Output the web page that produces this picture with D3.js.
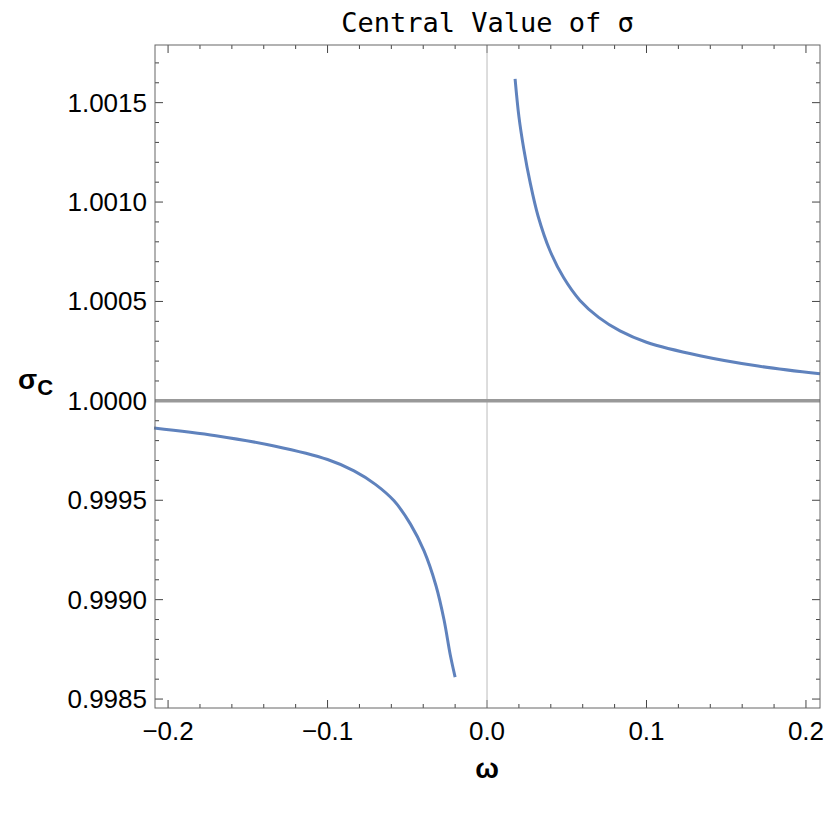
<!DOCTYPE html>
<html><head><meta charset="utf-8">
<script src="https://cdn.jsdelivr.net/npm/d3@7"></script>
<style>body{margin:0;background:#fff}</style>
</head><body>
<svg id="chart"></svg>
<script>
// values
let rightOmega = [0.0176, 0.0200, 0.0230, 0.0270, 0.0320, 0.0395, 0.0480, 0.0583, 0.0700, 0.0834, 0.1000, 0.1335, 0.1700, 0.2088];
let rightSigma = [1.00162, 1.00143, 1.00127, 1.00110, 1.00093, 1.000755, 1.00062, 1.000505, 1.00042, 1.000352, 1.000295, 1.000227, 1.000175, 1.000136];
let leftOmega = [-0.2088, -0.1700, -0.1335, -0.1000, -0.0834, -0.0700, -0.0583, -0.0480, -0.0395, -0.0320, -0.0270, -0.0230, -0.0200];
let leftSigma = [0.999864, 0.999825, 0.999773, 0.999705, 0.999648, 0.99958, 0.999497, 0.99938, 0.999245, 0.99907, 0.99890, 0.99872, 0.99861];
let xTicks = [-0.2, -0.1, 0.0, 0.1, 0.2];
let yTicks = [0.9985, 0.9990, 0.9995, 1.0000, 1.0005, 1.0010, 1.0015];

let width = 830, height = 814;
let m = {left: 155, right: 10, top: 45, bottom: 106};
let svg = d3.select('#chart').attr('width', width).attr('height', height);

let x = d3.scaleLinear().domain([-0.2082, 0.2088]).range([m.left, width - m.right]);
let y = d3.scaleLinear().domain([0.998455, 1.00179]).range([height - m.bottom, m.top]);
let x0 = m.left, x1 = width - m.right, y0 = height - m.bottom, y1 = m.top;

// minor and major ticks on all four sides
let minorX = d3.range(-0.20, 0.2001, 0.02);
let minorY = d3.range(0.9985, 1.00176, 0.0001);
let tk = svg.append('g').attr('stroke', '#444').attr('stroke-width', 1);
minorX.forEach(v => {
  let major = xTicks.some(t => Math.abs(t - v) < 1e-6), len = major ? 8 : 4;
  tk.append('line').attr('x1', x(v)).attr('x2', x(v)).attr('y1', y0).attr('y2', y0 - len);
  tk.append('line').attr('x1', x(v)).attr('x2', x(v)).attr('y1', y1).attr('y2', y1 + len);
});
minorY.forEach(v => {
  let major = yTicks.some(t => Math.abs(t - v) < 1e-8), len = major ? 8 : 4;
  tk.append('line').attr('x1', x0).attr('x2', x0 + len).attr('y1', y(v)).attr('y2', y(v));
  tk.append('line').attr('x1', x1).attr('x2', x1 - len).attr('y1', y(v)).attr('y2', y(v));
});

// axis lines at origin
svg.append('line').attr('x1', x(0)).attr('x2', x(0)).attr('y1', y1).attr('y2', y0)
  .attr('stroke', '#bbb').attr('stroke-width', 1);
svg.append('line').attr('x1', x0).attr('x2', x1).attr('y1', y(1)).attr('y2', y(1))
  .attr('stroke', '#999').attr('stroke-width', 3.5);

let line = d3.line().x(d => x(d[0])).y(d => y(d[1])).curve(d3.curveCatmullRom.alpha(0.5));
[[rightOmega, rightSigma], [leftOmega, leftSigma]].forEach(([a, b]) => {
  svg.append('path').datum(a.map((v, i) => [v, b[i]]))
    .attr('d', line).attr('fill', 'none').attr('stroke', '#5f82bd').attr('stroke-width', 3);
});

svg.append('rect').attr('x', x0).attr('y', y1).attr('width', x1 - x0).attr('height', y0 - y1)
  .attr('fill', 'none').attr('stroke', '#666').attr('stroke-width', 1);

let font = 'Liberation Sans, Arial, sans-serif';
svg.append('g').selectAll('text').data(xTicks).join('text')
  .attr('x', d => x(d)).attr('y', y0 + 32).attr('text-anchor', 'middle')
  .attr('font-family', font).attr('font-size', 26)
  .text(d => d3.format('.1f')(d).replace('-', '\u2212'));
svg.append('g').selectAll('text').data(yTicks).join('text')
  .attr('x', x0 - 8).attr('y', d => y(d) + 9).attr('text-anchor', 'end')
  .attr('font-family', font).attr('font-size', 26)
  .text(d => d3.format('.4f')(d));

svg.append('text').attr('x', (x0 + x1) / 2).attr('y', 32).attr('text-anchor', 'middle')
  .attr('font-family', 'DejaVu Sans Mono, monospace').attr('font-size', 27)
  .text('Central Value of \u03c3');
svg.append('text').attr('x', x(0)).attr('y', 778).attr('text-anchor', 'middle')
  .attr('font-family', font).attr('font-size', 28).attr('font-weight', 'bold').text('\u03c9');
let yl = svg.append('text').attr('x', 18).attr('y', 389)
  .attr('font-family', font).attr('font-size', 28).attr('font-weight', 'bold');
yl.append('tspan').text('\u03c3');
yl.append('tspan').attr('dy', 6).attr('font-size', 22).text('C');
</script>
</body></html>
